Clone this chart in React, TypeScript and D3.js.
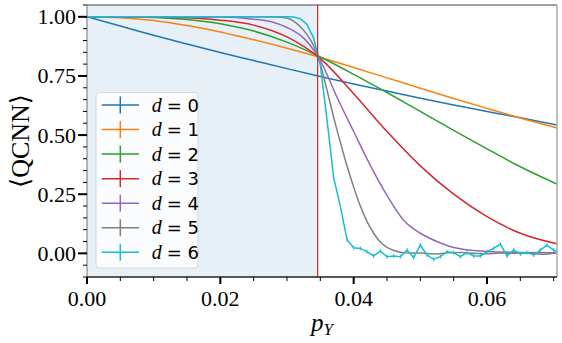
import * as d3 from "d3";

const W = 562;
const H = 343;
const MARGIN = { top: 5, right: 5, bottom: 66, left: 87 };

// shared grid for the smooth low-depth curves
const P_COARSE = [0, 0.005, 0.01, 0.015, 0.02, 0.025, 0.03, 0.035, 0.04, 0.045, 0.05, 0.055, 0.06, 0.065, 0.0705];
const D0 = [1, 0.961, 0.922, 0.885, 0.849, 0.815, 0.781, 0.748, 0.716, 0.686, 0.656, 0.627, 0.6, 0.573, 0.543];
const D1 = [1, 0.996, 0.984, 0.963, 0.936, 0.903, 0.867, 0.828, 0.786, 0.742, 0.698, 0.655, 0.613, 0.572, 0.53];
const D2 = [1, 1, 0.997, 0.989, 0.971, 0.94, 0.893, 0.83, 0.757, 0.68, 0.6, 0.52, 0.442, 0.366, 0.293];
const D3 = [1, 1, 0.999, 0.996, 0.986, 0.965, 0.915, 0.823, 0.675, 0.515, 0.37, 0.25, 0.155, 0.085, 0.04];

const P_D4 = [0, 0.02, 0.025, 0.0275, 0.03, 0.0325, 0.035, 0.0375, 0.04, 0.0425, 0.045, 0.0475, 0.05, 0.0525, 0.055, 0.06, 0.065, 0.0705];
const D4 = [1, 0.999, 0.99, 0.98, 0.955, 0.91, 0.815, 0.66, 0.515, 0.372, 0.245, 0.14, 0.085, 0.05, 0.025, 0.008, 0.004, 0.003];

const P_D5 = [0, 0.025, 0.028, 0.03, 0.031, 0.032, 0.033, 0.034, 0.035, 0.036, 0.037, 0.038, 0.039, 0.04, 0.041, 0.042, 0.043, 0.044, 0.045, 0.046, 0.047, 0.048, 0.05, 0.052, 0.054, 0.056, 0.058, 0.06, 0.062, 0.064, 0.066, 0.068, 0.0705];
const D5 = [1, 1, 0.999, 0.995, 0.982, 0.958, 0.925, 0.878, 0.8, 0.69, 0.575, 0.47, 0.37, 0.28, 0.2, 0.135, 0.085, 0.048, 0.025, 0.012, 0.005, 0.002, 0.001, -0.003, 0.002, 0.004, 0, -0.002, 0.001, 0, 0.002, -0.004, 0.003];

const P_D6 = [0, 0.01, 0.02, 0.03, 0.031, 0.032, 0.033, 0.034, 0.035, 0.036, 0.037, 0.038, 0.039, 0.04, 0.041, 0.042, 0.043, 0.044, 0.045, 0.046, 0.047, 0.048, 0.049, 0.05, 0.051, 0.052, 0.053, 0.054, 0.055, 0.056, 0.057, 0.058, 0.059, 0.06, 0.061, 0.062, 0.063, 0.064, 0.065, 0.066, 0.067, 0.068, 0.069, 0.07, 0.0705];
const D6 = [1, 1, 1, 1, 0.999, 0.992, 0.968, 0.91, 0.795, 0.565, 0.32, 0.2, 0.058, 0.024, 0.021, 0.007, -0.011, 0.01, -0.014, -0.011, -0.014, 0.014, -0.018, 0.035, -0.007, -0.025, -0.014, 0.007, 0.003, -0.014, 0.003, -0.011, -0.011, 0.007, 0.021, 0.039, -0.011, 0.014, -0.003, 0.003, -0.007, 0.014, 0.035, 0.014, 0.007];

const DEPTHS = [0, 1, 2, 3, 4, 5, 6];
const COLORS = ["#1f77b4", "#ff7f0e", "#2ca02c", "#d62728", "#9467bd", "#7f7f7f", "#17becf"];

const P_CRIT = 0.0346;
const X_TICKS = [0, 0.02, 0.04, 0.06];
const Y_TICKS = [0, 0.25, 0.5, 0.75, 1.0];

const SERIES = [
  { p: P_COARSE, v: D0, smooth: true },
  { p: P_COARSE, v: D1, smooth: true },
  { p: P_COARSE, v: D2, smooth: true },
  { p: P_COARSE, v: D3, smooth: true },
  { p: P_D4, v: D4, smooth: true },
  { p: P_D5, v: D5, smooth: true },
  { p: P_D6, v: D6, smooth: false },
];

const SERIF = { fontFamily: '"Liberation Serif", "Times New Roman", "DejaVu Serif", serif' };
const SANS = { fontFamily: '"DejaVu Sans", sans-serif' };

export default function App() {
  const left = MARGIN.left;
  const right = W - MARGIN.right;
  const top = MARGIN.top;
  const bottom = H - MARGIN.bottom;

  const x = d3.scaleLinear().domain([0, 0.0705]).range([left, right]);
  const y = d3.scaleLinear().domain([-0.1, 1.05]).range([bottom, top]);
  const fmt = d3.format(".2f");

  const xMinor = d3.range(0, 0.0706, 0.005);
  const yMinor = d3.range(-0.1, 1.051, 0.05);

  const lineFor = (smooth) =>
    d3
      .line()
      .x((d) => x(d[0]))
      .y((d) => y(d[1]))
      .curve(smooth ? d3.curveMonotoneX : d3.curveLinear);

  const legendTop = 105;
  const legendStep = 24.55;

  return (
    <svg
      width={W}
      height={H}
      style={{ position: "absolute", left: 0, top: 0, background: "#fff" }}
    >
      <defs>
        <clipPath id="plot-clip">
          <rect x={left} y={top} width={right - left} height={bottom - top} />
        </clipPath>
      </defs>

      {/* shaded ordered phase */}
      <rect x={left} y={top} width={x(P_CRIT) - left} height={bottom - top} fill="#e8f0f7" />

      <g clipPath="url(#plot-clip)">
        {SERIES.map((s, i) => (
          <g key={i}>
            <path
              d={lineFor(s.smooth)(s.p.map((p, j) => [p, s.v[j]]))}
              fill="none"
              stroke={COLORS[i]}
              strokeWidth={1.5}
            />
            {i === 6 &&
              s.p.map((p, j) =>
                p >= 0.039 ? (
                  <line
                    key={j}
                    x1={x(p)}
                    x2={x(p)}
                    y1={y(s.v[j]) - 2}
                    y2={y(s.v[j]) + 2}
                    stroke={COLORS[i]}
                    strokeWidth={1}
                  />
                ) : null
              )}
          </g>
        ))}
      </g>

      <line x1={x(P_CRIT)} x2={x(P_CRIT)} y1={top} y2={bottom} stroke="#c0282a" strokeWidth={1.2} />

      {/* spines */}
      <line x1={left} x2={right} y1={top} y2={top} stroke="#444" strokeWidth={1.2} />
      <line x1={right} x2={right} y1={top} y2={bottom} stroke="#aaa" strokeWidth={1.5} />
      <line x1={left} x2={left} y1={top} y2={bottom} stroke="#888" strokeWidth={1.2} />
      <line x1={left} x2={right} y1={bottom} y2={bottom} stroke="#222" strokeWidth={1.5} />

      {/* x ticks */}
      {xMinor.map((t, i) => (
        <line key={"xm" + i} x1={x(t)} x2={x(t)} y1={bottom} y2={bottom + 4} stroke="#000" strokeWidth={1} />
      ))}
      {X_TICKS.map((t) => (
        <g key={"x" + t}>
          <line x1={x(t)} x2={x(t)} y1={bottom} y2={bottom + 7} stroke="#000" strokeWidth={2} />
          <text x={x(t)} y={306} textAnchor="middle" style={SERIF} fontSize={22}>
            {fmt(t)}
          </text>
        </g>
      ))}

      {/* y ticks */}
      {yMinor.map((t, i) => (
        <line key={"ym" + i} x1={left - 4} x2={left} y1={y(t)} y2={y(t)} stroke="#000" strokeWidth={1} />
      ))}
      {Y_TICKS.map((t) => (
        <g key={"y" + t}>
          <line x1={left - 9} x2={left} y1={y(t)} y2={y(t)} stroke="#000" strokeWidth={2} />
          <text x={76} y={y(t) + 7.5} textAnchor="end" style={SERIF} fontSize={22}>
            {fmt(t)}
          </text>
        </g>
      ))}

      {/* axis labels */}
      <text x={(left + right) / 2} y={331} textAnchor="middle" style={SERIF} fontSize={25} fontStyle="italic">
        p
        <tspan fontSize={17} dy={4}>Y</tspan>
      </text>
      <text
        transform={`translate(29, ${(top + bottom) / 2}) rotate(-90)`}
        textAnchor="middle"
        style={SERIF}
        fontSize={26}
      >
        ⟨QCNN⟩
      </text>

      {/* legend */}
      <rect x={96} y={92.5} width={102} height={175.5} rx={3} fill="#fff" fillOpacity={0.8} stroke="#d6d6d6" />
      {DEPTHS.map((d, i) => {
        const cy = legendTop + i * legendStep;
        return (
          <g key={"lg" + d}>
            <line x1={101.7} x2={139} y1={cy} y2={cy} stroke={COLORS[i]} strokeWidth={1.5} />
            <line x1={120.3} x2={120.3} y1={cy - 8.5} y2={cy + 8.5} stroke={COLORS[i]} strokeWidth={1.5} />
            <text x={151.7} y={cy + 6.5} fontSize={18} style={SANS}>
              <tspan style={SERIF} fontStyle="italic" fontSize={20}>d</tspan>
              <tspan dx={5}>= {d}</tspan>
            </text>
          </g>
        );
      })}
    </svg>
  );
}
